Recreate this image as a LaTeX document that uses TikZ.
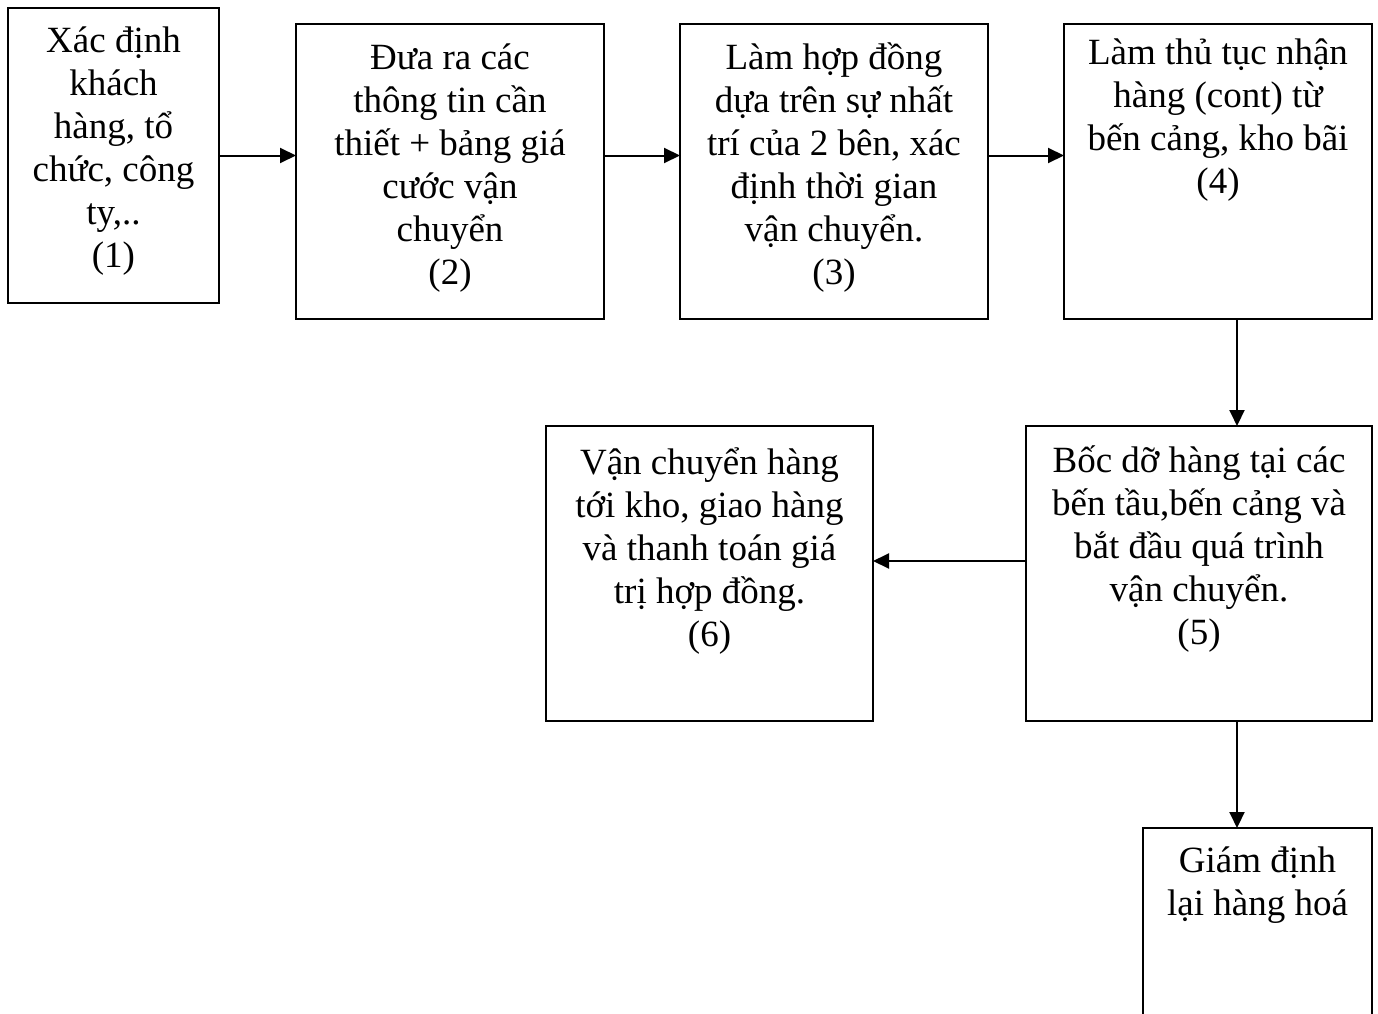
\documentclass[tikz,border=0pt]{standalone}
\usepackage{fontspec}
\setmainfont{Liberation Serif}
\usetikzlibrary{arrows.meta,positioning}

\begin{document}
\begin{tikzpicture}[x=1pt, y=-1pt, line width=2pt,
    box/.style={draw, minimum height=295pt, inner sep=0pt, outer sep=0pt},
    txt/.style={align=center, inner sep=0pt, font=\fontsize{37}{43}\selectfont,
                execute at begin node={\rule{0pt}{40pt}}},
    arr/.style={-{Triangle[length=16pt,width=15pt]}}]
  \useasboundingbox (0,0) rectangle (1378,1014);
  \clip (0,0) rectangle (1378,1014);

  \node[box, minimum width=211pt] (1) at (113.5,155.5) {};
  \node[box, minimum width=308pt] (2) at (450,171.5)   {};
  \node[box, minimum width=308pt] (3) [right=76pt of 2] {};
  \node[box, minimum width=308pt] (4) [right=76pt of 3] {};
  \node[box, minimum width=346pt] (5) [below=107pt of 4.south east, anchor=north east] {};
  \node[box, minimum width=327pt] (6) [left=153pt of 5] {};
  \node[box, minimum width=229pt] (7) [below=107pt of 5.south east, anchor=north east] {};

  \node[txt] (t1) [below=18pt of 1.north] {Xác định\\khách\\hàng, tổ\\chức, công\\ty,..\\(1)};
  \node[txt] (t2) [below=19pt of 2.north] {Đưa ra các\\thông tin cần\\thiết + bảng giá\\cước vận\\chuyển\\(2)};
  \node[txt] (t3) [below=18pt of 3.north] {Làm hợp đồng\\dựa trên sự nhất\\trí của 2 bên, xác\\định thời gian\\vận chuyển.\\(3)};
  \node[txt] (t4) [below=14pt of 4.north] {Làm thủ tục nhận\\hàng (cont) từ\\bến cảng, kho bãi\\(4)};
  \node[txt] (t5) [below=19pt of 5.north] {Bốc dỡ hàng tại các\\bến tầu,bến cảng và\\bắt đầu quá trình\\vận chuyển.\\(5)};
  \node[txt] (t6) [below=21pt of 6.north] {Vận chuyển hàng\\tới kho, giao hàng\\và thanh toán giá\\trị hợp đồng.\\(6)};
  \node[txt] (t7) [below=18pt of 7.north] {Giám định\\lại hàng hoá};

  \draw[arr] (1) -- (1 -| 2.west);
  \draw[arr] (2.east |- 1) -- (3.west |- 1);
  \draw[arr] (3.east |- 1) -- (4.west |- 1);
  \draw[arr] ([xshift=19pt]4.south) -- ([xshift=19pt]4.south |- 5.north);
  \draw[arr] ([yshift=12.5pt]5.west) -- ([yshift=12.5pt]5.west -| 6.east);
  \draw[arr] ([xshift=38pt]5.south) -- ([xshift=38pt]5.south |- 7.north);
\end{tikzpicture}
\end{document}
